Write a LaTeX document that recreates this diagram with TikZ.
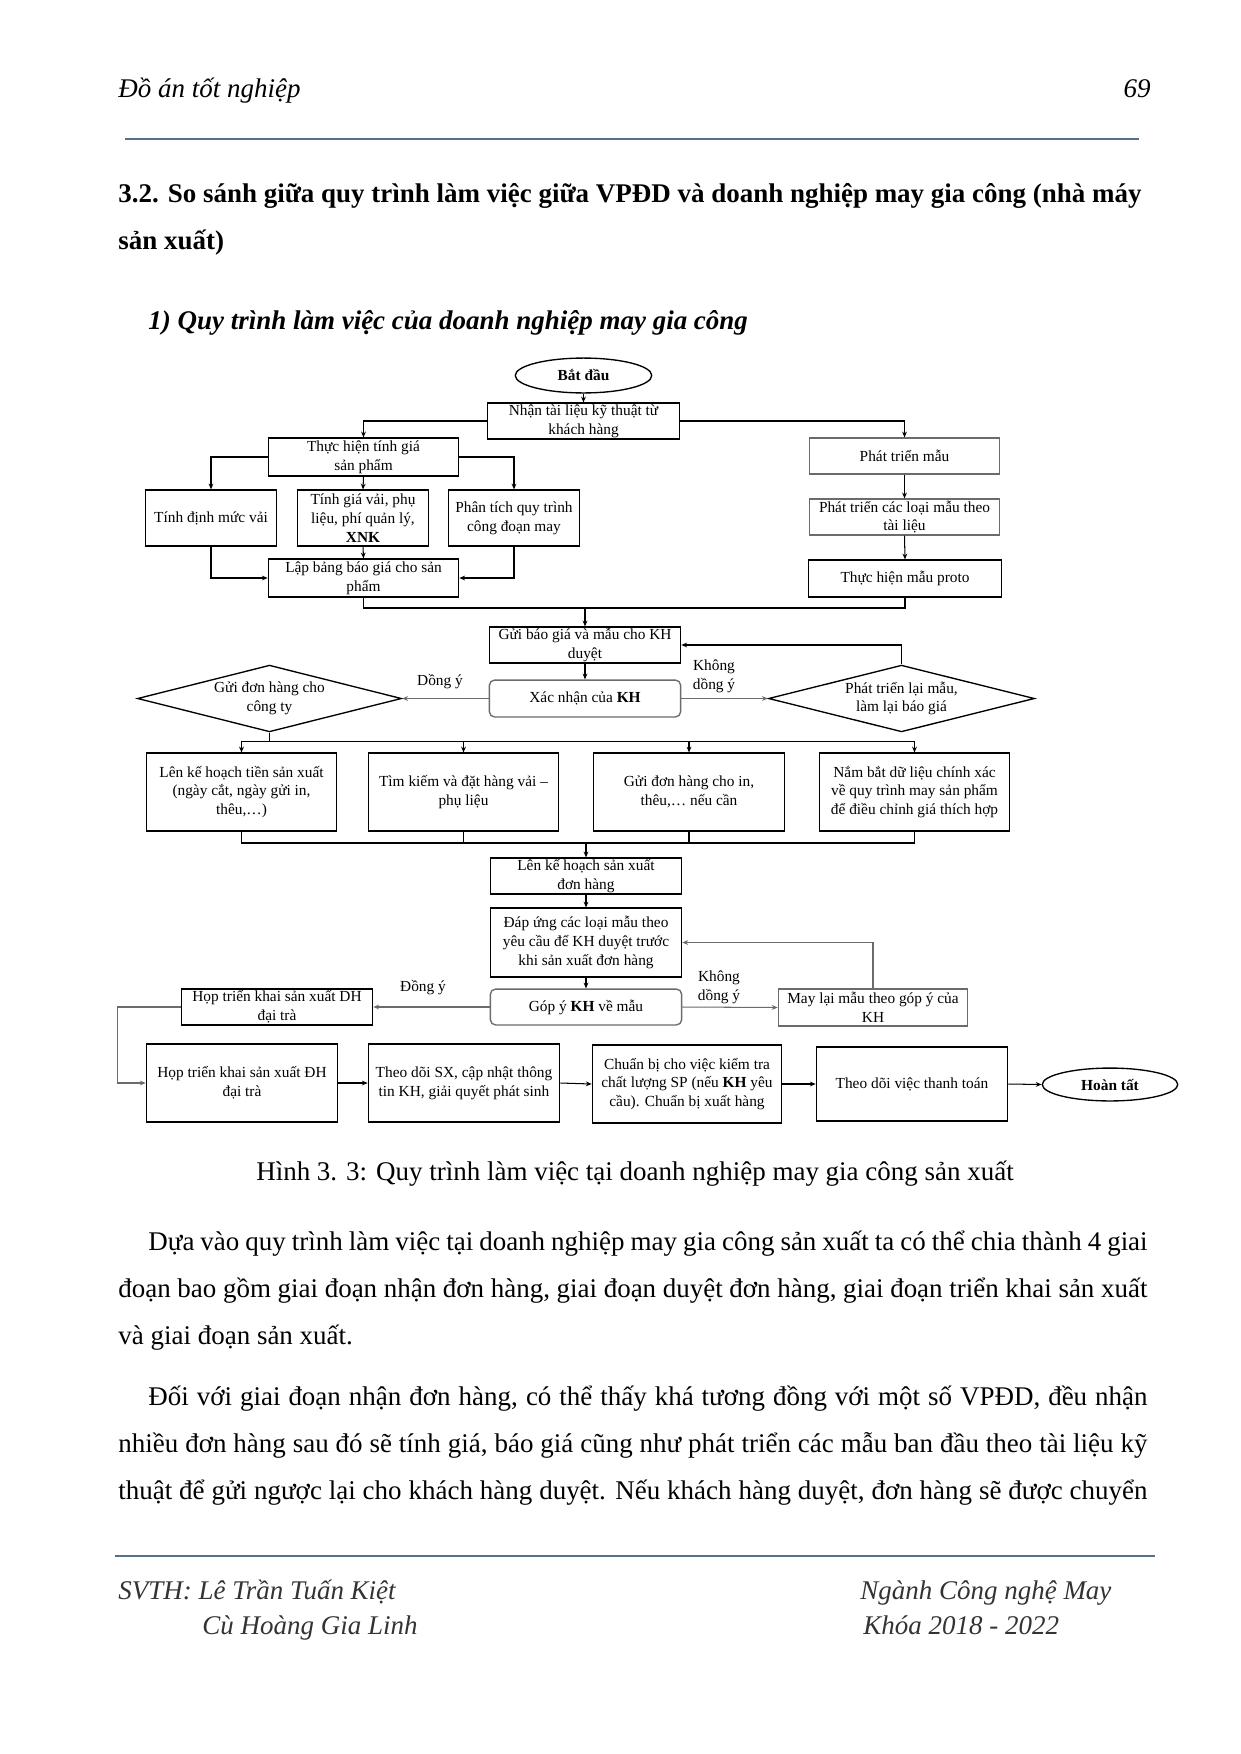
\documentclass[tikz,border=0pt]{standalone}
\usepackage{fontspec}
\setmainfont{Liberation Serif}
\usetikzlibrary{shapes.geometric,arrows.meta}
\definecolor{rulec}{RGB}{84,112,140}
\definecolor{lg}{gray}{0.42}
\newcommand\dfont{\fontsize{7.4}{9}\selectfont}
\newcommand\bodyfont{\fontsize{13}{15}\selectfont}
\newcommand\mkbox[7][]{%
  \node[bx,#1,minimum width={(#5-#3)*0.4801pt},minimum height={(#6-#4)*0.4801pt}] (#2) at ({(#3+#5)/2},{(#4+#6)/2}) {#7};}
\begin{document}
\begin{tikzpicture}[x=0.016935cm,y=-0.016935cm,
  bx/.style={draw,line width=0.65pt,inner sep=0pt,align=center,font=\dfont},
  gbx/.style={draw=lg},
  rbx/.style={rounded corners=2.5pt},
  arr/.style={-{Stealth[length=2.8pt,width=2.3pt]},line width=0.5pt},
  garr/.style={arr,draw=lg},
  ln/.style={line width=0.5pt},
  lbl/.style={inner sep=0pt,align=center,font=\dfont},
  txt/.style={anchor=base west,inner sep=0pt,font=\bodyfont},
  frule/.style={draw=rulec,line width=1.1pt}]
\fill[white] (0,0) rectangle (1240,1754);
\useasboundingbox (0,0) rectangle (1240,1754);

% ---------- header ----------
\node[txt] (hd) at (118,97) {\itshape Đồ án tốt nghiệp};
\node[txt,anchor=base east] (pg) at (1151,97) {\itshape 69};
\coordinate (r1a) at (125,139); \coordinate (r1b) at (1139,139);
\draw[frule] (r1a) -- (r1b);

\node[txt] (t1) at (118,202) {\bfseries 3.2. So sánh giữa quy trình làm việc giữa VPĐD và doanh nghiệp may gia công (nhà máy};
\node[txt] (t2) at (118,249) {\bfseries sản xuất)};
\node[txt] (t3) at (148,329) {\bfseries\itshape 1) Quy trình làm việc của doanh nghiệp may gia công};

% ---------- diagram ----------
\node[bx,ellipse,minimum width={137*0.4801pt},minimum height={35*0.4801pt}] (n1) at (583.5,375.5) {\bfseries Bắt đầu};
\mkbox{n2}{487}{403}{680}{439}{Nhận tài liệu kỹ thuật từ\\khách hàng}
\mkbox{n3}{268}{438}{459}{476}{Thực hiện tính giá\\sản phẩm}
\mkbox{n4}{145}{490}{277}{546}{Tính định mức vải}
\mkbox{n5}{297}{490}{429}{546}{Tính giá vải, phụ\\liệu, phí quản lý,\\\textbf{XNK}}
\mkbox{n6}{448}{490}{580}{546}{Phân tích quy trình\\công đoạn may}
\mkbox{n7}{268}{559}{459}{597}{Lập bảng báo giá cho sản\\phẩm}
\mkbox[gbx]{n8}{809}{438}{1000}{474}{Phát triển mẫu}
\mkbox[gbx]{n9}{809}{499}{1000}{535}{Phát triển các loại mẫu theo\\tài liệu}
\mkbox{n10}{808}{560}{1002}{597}{Thực hiện mẫu proto}
\mkbox{n11}{489}{627}{681}{663}{Gửi báo giá và mẫu cho KH\\duyệt}
\mkbox[gbx,rbx]{n12}{489}{680}{681}{717}{Xác nhận của \textbf{KH}}
\node[bx,diamond,aspect=3.96,minimum width={265*0.4801pt},minimum height={67*0.4801pt}] (n13) at (269.5,698.5) {Gửi đơn hàng cho\\công ty};
\node[bx,diamond,aspect=3.96,minimum width={267*0.4801pt},minimum height={67*0.4801pt}] (n14) at (901.5,698.5) {Phát triển lại mẫu,\\làm lại báo giá};
\mkbox{n15}{146}{753}{337}{831}{Lên kế hoạch tiền sản xuất\\(ngày cắt, ngày gửi in,\\thêu,…)}
\mkbox{n16}{368}{753}{559}{831}{Tìm kiếm và đặt hàng vải –\\phụ liệu}
\mkbox{n17}{593}{753}{785}{831}{Gửi đơn hàng cho in,\\thêu,… nếu cần}
\mkbox{n18}{819}{753}{1010}{831}{Nắm bắt dữ liệu chính xác\\về quy trình may sản phẩm\\để điều chỉnh giá thích hợp}
\mkbox{n19}{490}{858}{682}{894}{Lên kế hoạch sản xuất\\đơn hàng}
\mkbox{n20}{490}{908}{682}{977}{Đáp ứng các loại mẫu theo\\yêu cầu để KH duyệt trước\\khi sản xuất đơn hàng}
\mkbox[gbx,rbx]{n21}{490}{989}{682}{1025}{Góp ý \textbf{KH} về mẫu}
\mkbox[gbx]{n22}{778}{989}{968}{1026}{May lại mẫu theo góp ý của\\KH}
\mkbox{n23}{181}{989}{373}{1025}{Họp triển khai sản xuất DH\\đại trà}
\mkbox{n24}{146}{1044}{338}{1122}{Họp triển khai sản xuất ĐH\\đại trà}
\mkbox{n25}{368}{1044}{560}{1122}{Theo dõi SX, cập nhật thông\\tin KH, giải quyết phát sinh}
\mkbox{n26}{592}{1045}{782}{1123}{Chuẩn bị cho việc kiểm tra\\chất lượng SP (nếu \textbf{KH} yêu\\cầu). Chuẩn bị xuất hàng}
\mkbox{n27}{816}{1047}{1008}{1121}{Theo dõi việc thanh toán}
\node[bx,ellipse,minimum width={136*0.4801pt},minimum height={33*0.4801pt}] (n28) at (1110,1084.5) {\bfseries Hoàn tất};

% labels
\node[lbl] (l1) at (440,682) {Dồng ý};
\node[lbl] (l2) at (714,676) {Không\\dồng ý};
\node[lbl] (l3) at (423,988) {Đồng ý};
\node[lbl] (l4) at (719,987) {Không\\dồng ý};

% junction points
\coordinate (j1) at (585,608);
\coordinate (j3) at (586,843);

% connectors
\draw[arr] (n1.south) -- (n2.north);
\draw[arr] (n2.west) -| (n3.north);
\draw[arr] (n2.east) -| (n8.north);
\draw[arr] (n3.west) -| (n4.north);
\draw[arr] (n3.east) -| (n6.north);
\draw[arr] (n3.south) -- (n5.north);
\draw[arr] (n4.south) |- (n7.west);
\draw[arr] (n6.south) |- (n7.east);
\draw[arr] (n5.south) -- (n7.north);
\draw[arr] (n8.south) -- (n9.north);
\draw[arr] (n9.south) -- (n10.north);
\draw[ln] (n7.south) |- (j1);
\draw[ln] (n10.south) |- (j1);
\draw[arr] (j1) -- (n11.north);
\draw[arr] (n11.south) -- (n12.north);
\draw[garr] (n12.west) -- (n13.east);
\draw[garr] (n12.east) -- (n14.west);
\draw[arr] (n14.north) |- (n11.east);
\draw[arr] (n13.south) -- ++(0,9) -| (n15.north);
\draw[arr] (n13.south) -- ++(0,9) -| (n16.north);
\draw[arr] (n13.south) -- ++(0,9) -| (n17.north);
\draw[arr] (n13.south) -- ++(0,9) -| (n18.north);
\draw[ln] (n15.south) |- (j3);
\draw[ln] (n16.south) |- (j3);
\draw[ln] (n17.south) |- (j3);
\draw[ln] (n18.south) |- (j3);
\draw[arr] (j3) -- (n19.north);
\draw[arr] (n19.south) -- (n20.north);
\draw[arr] (n20.south) -- (n21.north);
\draw[garr] (n21.west) -- (n23.east);
\draw[garr] (n21.east) -- (n22.west);
\draw[garr] (n22.north) |- (n20.east);
\draw[garr] (n23.west) -- ++(-63,0) |- (n24.west);
\draw[arr] (n24.east) -- (n25.west);
\draw[arr] (n25.east) -- (n26.west);
\draw[arr] (n26.east) -- (n27.west);
\draw[arr] (n27.east) -- (n28.west);

% ---------- caption and body ----------
\node[inner sep=0pt,anchor=base,font=\bodyfont] (cap) at (635,1180) {Hình 3. 3: Quy trình làm việc tại doanh nghiệp may gia công sản xuất};
\node[txt] (p1) at (148,1250) {\makebox[481.5pt][s]{Dựa vào quy trình làm việc tại doanh nghiệp may gia công sản xuất ta có thể chia thành 4 giai}};
\node[txt] (p2) at (118,1297) {\makebox[495.9pt][s]{đoạn bao gồm giai đoạn nhận đơn hàng, giai đoạn duyệt đơn hàng, giai đoạn triển khai sản xuất}};
\node[txt] (p3) at (118,1344) {và giai đoạn sản xuất.};
\node[txt] (p4) at (148,1405) {\makebox[481.5pt][s]{Đối với giai đoạn nhận đơn hàng, có thể thấy khá tương đồng với một số VPĐD, đều nhận}};
\node[txt] (p5) at (118,1452) {\makebox[495.9pt][s]{nhiều đơn hàng sau đó sẽ tính giá, báo giá cũng như phát triển các mẫu ban đầu theo tài liệu kỹ}};
\node[txt] (p6) at (118,1499) {\makebox[495.9pt][s]{thuật để gửi ngược lại cho khách hàng duyệt. Nếu khách hàng duyệt, đơn hàng sẽ được chuyển}};

% ---------- footer ----------
\coordinate (r2a) at (115,1556); \coordinate (r2b) at (1155,1556);
\draw[frule] (r2a) -- (r2b);
\node[txt,text=black!80] (f1) at (118,1599) {\itshape SVTH: Lê Trần Tuấn Kiệt};
\node[txt,text=black!80] (f2) at (202,1634) {\itshape Cù Hoàng Gia Linh};
\node[txt,text=black!80] (f3) at (860,1599) {\itshape Ngành Công nghệ May};
\node[txt,text=black!80] (f4) at (863,1634) {\itshape Khóa 2018 - 2022};
\end{tikzpicture}
\end{document}
